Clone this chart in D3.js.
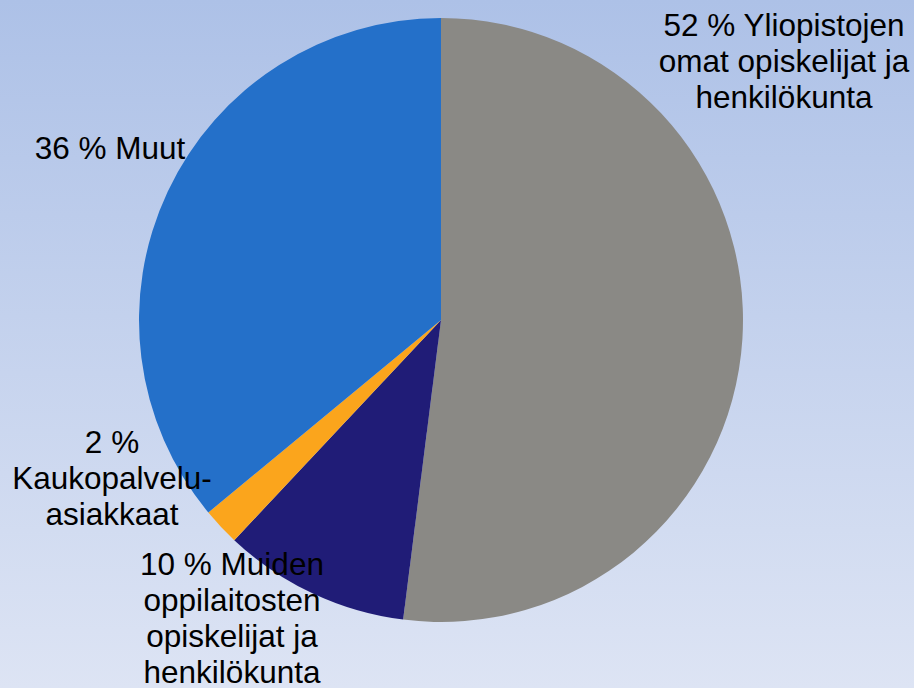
<html>
<script src="https://d3js.org/d3.v7.min.js"></script>
<style>
    body { margin: 0; }
    svg text { font-family: "Liberation Sans", Arial, sans-serif; font-size: 31.5px; fill: #000; }
</style>
<body>
<svg width="914" height="688"></svg>
<script>
    // data
    var categories = ["Yliopistojen omat opiskelijat ja henkilökunta",
                      "Muiden oppilaitosten opiskelijat ja henkilökunta",
                      "Kaukopalveluasiakkaat",
                      "Muut"];
    var values = [52, 10, 2, 36];
    var labelLines = [
        ["52 % Yliopistojen", "omat opiskelijat ja", "henkilökunta"],
        ["10 % Muiden", "oppilaitosten", "opiskelijat ja", "henkilökunta"],
        ["2 %", "Kaukopalvelu-", "asiakkaat"],
        ["36 % Muut"]
    ];
    var colors = ["#8a8985", "#201c77", "#fba51c", "#2470c9"];

    var svg = d3.select("svg");
    var W = 914, H = 688;

    // background gradient
    var grad = svg.append("defs").append("linearGradient")
        .attr("id", "bg").attr("x1", 0).attr("y1", 0).attr("x2", 0).attr("y2", 1);
    grad.append("stop").attr("offset", "0%").attr("stop-color", "#adc1e7");
    grad.append("stop").attr("offset", "100%").attr("stop-color", "#dde4f4");
    svg.append("rect").attr("width", W).attr("height", H).attr("fill", "url(#bg)");

    var cx = 441, cy = 320, r = 302;

    var pie = d3.pie().sort(null).value(function (d) { return d; });
    var arc = d3.arc().innerRadius(0).outerRadius(r);

    var g = svg.append("g").attr("transform", "translate(" + cx + "," + cy + ")");
    g.selectAll("path").data(pie(values)).enter().append("path")
        .attr("d", arc)
        .attr("fill", function (d, i) { return colors[i]; });

    // label anchors (centre of first baseline), relative to pie centre
    var labelPos = [[343, -284], [-209, 255], [-329, 133], [-331, -161]];
    var lineH = 36;

    g.selectAll("text.lbl").data(labelLines).enter().append("text")
        .attr("class", "lbl")
        .attr("text-anchor", "middle")
        .attr("transform", function (d, i) { return "translate(" + labelPos[i][0] + "," + labelPos[i][1] + ")"; })
        .each(function (lines) {
            var t = d3.select(this);
            lines.forEach(function (s, j) {
                t.append("tspan").attr("x", 0).attr("y", j * lineH).text(s);
            });
        });
</script>
</body>
</html>
